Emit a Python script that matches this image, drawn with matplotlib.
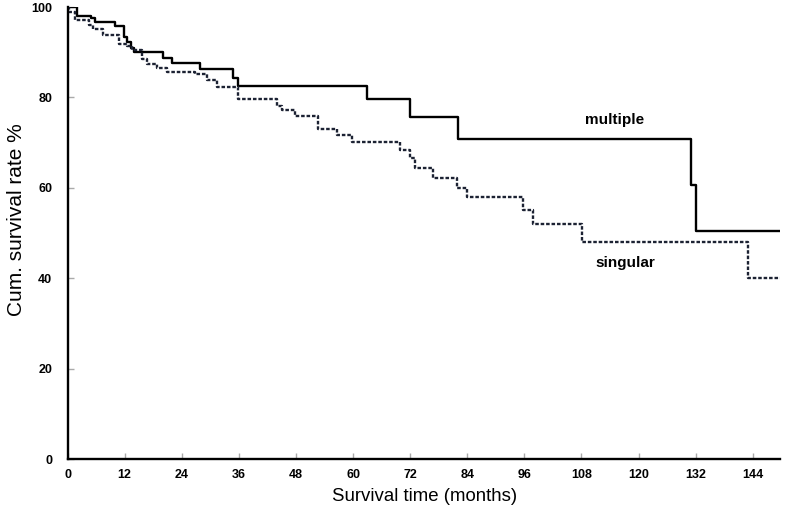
import matplotlib.pyplot as plt

plt.rcParams['font.family'] = ['Liberation Sans', 'DejaVu Sans']

# Kaplan-Meier steps (months, cum. survival %)
multiple_t = [0, 2, 5, 5.7, 9.9, 11.8, 12.6, 13.3, 13.9, 20, 21.9, 27.8, 34.7,
              35.8, 63, 72, 82, 131, 132, 150]
multiple_s = [100, 98.1, 97.5, 96.6, 95.7, 93.3, 92.2, 91, 90, 88.8, 87.7, 86.2,
              84.4, 82.5, 79.6, 75.6, 70.8, 60.6, 50.5, 50.5]

singular_t = [0, 0.4, 1.5, 4.6, 5.3, 7.4, 10.9, 12.4, 13.5, 15.6, 16.8, 18.7,
              20.8, 26.7, 29.3, 31.4, 35.8, 44, 45, 47.8, 52.6, 56.6, 59.8,
              69.9, 72, 73, 76.8, 81.9, 84, 95.8, 97.9, 108.2, 143, 150]
singular_s = [100, 98.8, 97.2, 96.1, 95.2, 93.9, 91.9, 91.3, 90.4, 88.6, 87.5,
              86.6, 85.7, 85.1, 83.8, 82.4, 79.6, 78, 77.3, 76, 73.1, 71.6, 70.1,
              68.3, 66.5, 64.3, 62.1, 59.9, 57.9, 55, 51.9, 48, 40, 40]

x_ticks = list(range(0, 145, 12))
y_ticks = [0, 20, 40, 60, 80, 100]

fig = plt.figure(figsize=(7.88, 5.24), dpi=100)
ax = fig.add_axes([0.0857, 0.124, 0.904, 0.8626])

ax.step(multiple_t, multiple_s, where='post', color='black', lw=1.7)
ax.step(singular_t, singular_s, where='post', color='#1c2233', lw=1.7,
        linestyle=(0, (1.5, 0.8)))

ax.text(115, 74.9, 'multiple', fontsize=11, fontweight='bold',
        ha='center', va='center')
ax.text(117.3, 43.3, 'singular', fontsize=11, fontweight='bold',
        ha='center', va='center')

ax.set_xlim(0, 149.7)
ax.set_ylim(0, 100)
ax.set_xticks(x_ticks)
ax.set_yticks(y_ticks)

for side in ['top', 'right']:
    ax.spines[side].set_visible(False)
for side in ['left', 'bottom']:
    ax.spines[side].set_linewidth(1.7)

ax.tick_params(axis='both', direction='in', length=4, width=1, color='#aaaaaa',
               labelsize=9)
ax.tick_params(axis='x', pad=7)
ax.tick_params(axis='y', pad=11)
for lab in ax.get_xticklabels() + ax.get_yticklabels():
    lab.set_fontweight('bold')

ax.set_xlabel('Survival time (months)', fontsize=13.4, va='center')
ax.set_ylabel('Cum. survival rate %', fontsize=15, va='center')
ax.xaxis.set_label_coords(0.501, -0.084)
ax.yaxis.set_label_coords(-0.071, 0.53)

fig.savefig('out.png', dpi=100)
